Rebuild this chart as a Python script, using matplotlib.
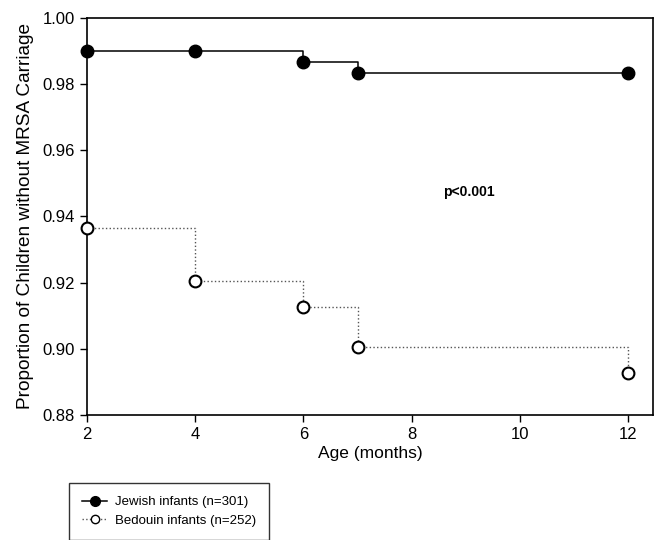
import matplotlib.pyplot as plt

plt.rcParams['font.family'] = ['Liberation Sans', 'DejaVu Sans']

# data
ages = [2, 4, 6, 7, 12]
jewish = [0.990, 0.990, 0.9867, 0.9834, 0.9834]
bedouin = [0.9364, 0.9206, 0.9127, 0.9006, 0.8928]
xticks = [2, 4, 6, 8, 10, 12]
yticks = [0.88, 0.90, 0.92, 0.94, 0.96, 0.98, 1.00]

fig = plt.figure(figsize=(6.63, 5.4), dpi=100)
ax = fig.add_axes([0.131, 0.2315, 0.854, 0.7352])

# Kaplan-Meier style steps: flat until next time, then drop
ax.step(ages, jewish, where='post', color='black', lw=1.1, zorder=2)
ax.step(ages, bedouin, where='post', color='#555555', lw=1.0, ls=':', zorder=2)
ax.plot(ages, jewish, 'o', color='black', ms=9, zorder=3, clip_on=False)
ax.plot(ages, bedouin, 'o', mfc='white', mec='black', mew=1.5, ms=8.5, zorder=3, clip_on=False)

# legend handles
h1, = ax.plot([], [], '-o', color='black', ms=7, lw=1.1, label='Jewish infants (n=301)')
h2, = ax.plot([], [], ':o', color='#555555', mfc='white', mec='black', ms=6, lw=1.0,
              label='Bedouin infants (n=252)')

ax.text(9.05, 0.9475, 'p<0.001', fontsize=10, fontweight='bold', ha='center', va='center')

ax.set_xlim(2, 12.46)
ax.set_ylim(0.88, 1.00)
ax.set_xticks(xticks)
ax.set_yticks(yticks)
ax.set_yticklabels(['%.2f' % v for v in yticks])
ax.tick_params(direction='out', length=5, width=1, labelsize=12)
for s in ax.spines.values():
    s.set_linewidth(1.2)

ax.set_xlabel('Age (months)', fontsize=12.5, labelpad=3)
ax.set_ylabel('Proportion of Children without MRSA Carriage', fontsize=13.7, labelpad=6)

leg = fig.legend(handles=[h1, h2], loc='upper left', bbox_to_anchor=(0.104, 0.106),
                 borderaxespad=0, fontsize=9.5, frameon=True, fancybox=False,
                 edgecolor='black', handlelength=1.9, borderpad=1.0,
                 labelspacing=0.5, handletextpad=0.6)
leg.get_frame().set_linewidth(1.0)

fig.savefig('out.png', dpi=100)
